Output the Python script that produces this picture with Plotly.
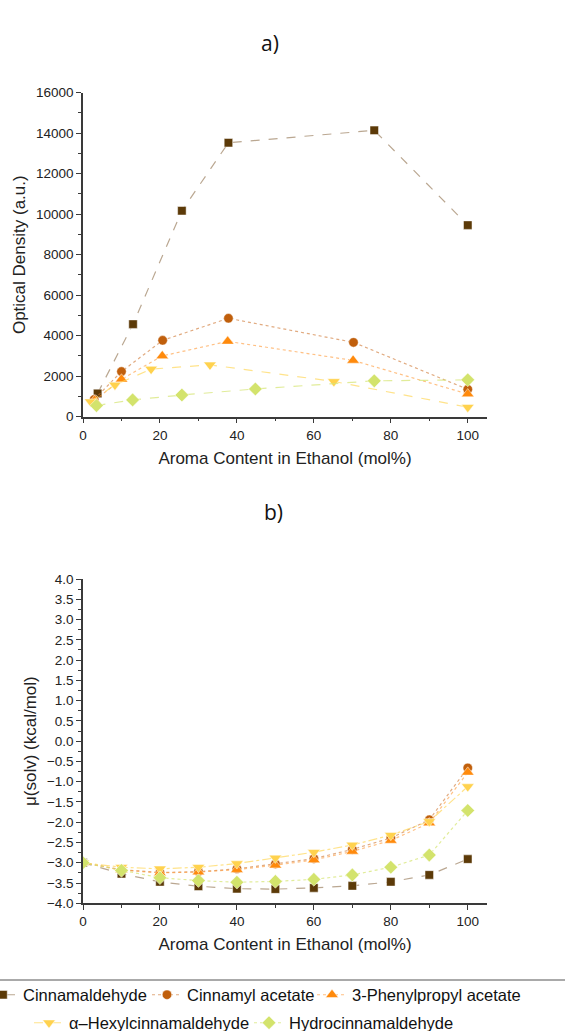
import plotly.graph_objects as go

# ---------------- data ----------------
names = ["Cinnamaldehyde", "Cinnamyl acetate", "3-Phenylpropyl acetate",
         "α–Hexylcinnamaldehyde", "Hydrocinnamaldehyde"]

# panel a) optical density
a_x_cin = [3.8, 13.0, 25.7, 37.8, 75.7, 100]
a_y_cin = [1150, 4570, 10170, 13530, 14140, 9460]
a_x_cac = [2.9, 10.0, 20.7, 37.8, 70.3, 100]
a_y_cac = [850, 2230, 3770, 4860, 3670, 1350]
a_x_ppa = [3.0, 10.0, 20.6, 37.6, 70.2, 100]
a_y_ppa = [800, 1850, 3000, 3720, 2780, 1120]
a_x_hex = [2.0, 8.3, 17.7, 33.0, 65.2, 100]
a_y_hex = [740, 1570, 2350, 2560, 1740, 470]
a_x_hyd = [3.5, 12.9, 25.7, 44.8, 75.7, 100]
a_y_hyd = [550, 830, 1070, 1370, 1770, 1820]

# panel b) mu(solv)
b_x = [0, 10, 20, 30, 40, 50, 60, 70, 80, 90, 100]
b_y_cin = [-3.0, -3.27, -3.47, -3.58, -3.64, -3.65, -3.62, -3.57, -3.47, -3.30, -2.91]
b_y_cac = [-3.0, -3.17, -3.24, -3.22, -3.15, -3.03, -2.90, -2.67, -2.39, -1.94, -0.66]
b_y_ppa = [-3.0, -3.18, -3.25, -3.23, -3.17, -3.06, -2.93, -2.72, -2.45, -2.02, -0.77]
b_y_hex = [-3.0, -3.11, -3.15, -3.11, -3.02, -2.88, -2.74, -2.56, -2.32, -1.98, -1.12]
b_y_hyd = [-3.0, -3.19, -3.37, -3.44, -3.48, -3.46, -3.41, -3.30, -3.11, -2.81, -1.71]

# ---------------- styles ----------------
marker_colors = ["#5C3A08", "#C05F0C", "#FF8A0C", "#FFD24E", "#D3E36C"]
line_colors = ["rgba(130,95,55,0.55)", "rgba(205,115,45,0.6)", "rgba(255,150,50,0.6)",
               "rgba(255,215,90,0.7)", "rgba(215,230,120,0.75)"]
symbols = ["square", "circle", "triangle-up", "triangle-down", "diamond"]
sizes = [8.5, 9.5, 11, 11, 10.5]
dash_a = ["dash", "dot", "dot", "dash", "dash"]
dash_b = ["dash", "dot", "dot", "dashdot", "dot"]

a_series = [(a_x_cin, a_y_cin), (a_x_cac, a_y_cac), (a_x_ppa, a_y_ppa),
            (a_x_hex, a_y_hex), (a_x_hyd, a_y_hyd)]
b_series = [b_y_cin, b_y_cac, b_y_ppa, b_y_hex, b_y_hyd]

FONT = "Liberation Sans, Arial, sans-serif"

fig = go.Figure()

for i, (xs, ys) in enumerate(a_series):
    fig.add_trace(go.Scatter(
        x=xs, y=ys, mode="lines+markers", name=names[i], showlegend=False,
        line=dict(color=line_colors[i], width=1.2, dash=dash_a[i]),
        marker=dict(symbol=symbols[i], size=sizes[i], color=marker_colors[i],
                    line=dict(color="rgba(255,255,255,0.6)", width=0.8)),
        xaxis="x", yaxis="y"))

legend_keys = ["legend", "legend2", "legend3", "legend4", "legend5"]
for i, ys in enumerate(b_series):
    fig.add_trace(go.Scatter(
        x=b_x, y=ys, mode="lines+markers", name=names[i], showlegend=True,
        legend=legend_keys[i],
        line=dict(color=line_colors[i], width=1.2, dash=dash_b[i]),
        marker=dict(symbol=symbols[i], size=sizes[i], color=marker_colors[i],
                    line=dict(color="rgba(255,255,255,0.6)", width=0.8)),
        xaxis="x2", yaxis="y2"))

W, H = 565, 1031
ML, MR = 83, 78
PW = W - ML - MR


def px_x(p):
    return (p - ML) / PW


def px_y(p):
    return 1 - p / H


axis_common = dict(
    showline=True, linecolor="#3a3a3a", linewidth=1.5, mirror=False,
    ticks="outside", ticklen=5, tickwidth=1.2, tickcolor="#3a3a3a",
    showgrid=False, zeroline=False,
    tickfont=dict(family=FONT, size=13.5, color="#222"),
)
title_font = dict(family=FONT, size=17, color="#222")

legend_defs = [(1, 995), (165, 995), (330, 995), (47, 1023), (267, 1023)]
legends = {}
for key, (mx, my) in zip(legend_keys, legend_defs):
    legends[key] = dict(
        x=px_x(mx - 18), y=px_y(my), xanchor="left", yanchor="middle",
        orientation="h", bgcolor="rgba(0,0,0,0)", borderwidth=0,
        font=dict(family=FONT, size=16.5, color="#111"),
        itemwidth=30, tracegroupgap=0)

fig.update_layout(
    width=W, height=H,
    margin=dict(l=ML, r=MR, t=0, b=0, autoexpand=False),
    paper_bgcolor="white", plot_bgcolor="white",
    xaxis=dict(domain=[0, 1], range=[0, 105], tickmode="linear", tick0=0, dtick=20,
               minor=dict(ticks="outside", ticklen=3, dtick=10, tickcolor="#3a3a3a"),
               anchor="y",
               title=dict(text="Aroma Content in Ethanol (mol%)", font=title_font, standoff=10),
               **axis_common),
    yaxis=dict(domain=[px_y(416.7), px_y(92.7)], range=[0, 16000], tickmode="linear",
               tick0=0, dtick=2000, tickformat="d",
               minor=dict(ticks="outside", ticklen=3, dtick=1000, tickcolor="#3a3a3a"),
               anchor="x",
               title=dict(text="Optical Density (a.u.)", font=title_font, standoff=6),
               **axis_common),
    xaxis2=dict(domain=[0, 1], range=[0, 105], tickmode="linear", tick0=0, dtick=20,
                minor=dict(ticks="outside", ticklen=3, dtick=10, tickcolor="#3a3a3a"),
                anchor="y2",
                title=dict(text="Aroma Content in Ethanol (mol%)", font=title_font, standoff=10),
                **axis_common),
    yaxis2=dict(domain=[px_y(903.3), px_y(579)], range=[-4, 4], tickmode="linear",
                tick0=-4, dtick=0.5, tickformat=".1f",
                minor=dict(ticks="outside", ticklen=3, dtick=0.25, tickcolor="#3a3a3a"),
                anchor="x2",
                title=dict(text="μ(solv) (kcal/mol)", font=title_font, standoff=6),
                **axis_common),
    annotations=[
        dict(text="a)", x=px_x(270), y=px_y(27), xref="paper", yref="paper",
             showarrow=False, font=dict(family="Open Sans, Noto Sans, sans-serif", size=21, color="#111")),
        dict(text="b)", x=px_x(273), y=px_y(512), xref="paper", yref="paper",
             showarrow=False, font=dict(family="Open Sans, Noto Sans, sans-serif", size=21, color="#111")),
    ],
    shapes=[dict(type="line", xref="paper", yref="paper",
                 x0=px_x(0), x1=px_x(W), y0=px_y(980), y1=px_y(980),
                 line=dict(color="#555", width=1))],
    **legends,
)

fig.write_html(
    "out.html",
    config={"displayModeBar": False},
    post_script="document.body.style.margin='0';document.body.style.overflow='hidden';",
)
